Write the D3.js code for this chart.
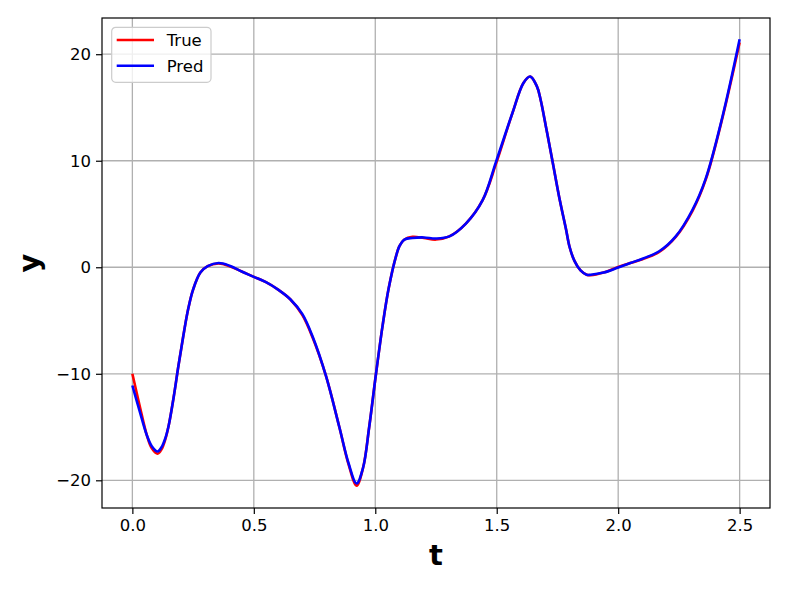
<!DOCTYPE html>
<html>
<head>
<meta charset="utf-8">
<script src="https://cdn.jsdelivr.net/npm/d3@7"></script>
<style>
  body { margin: 0; background: #fff; }
  text { font-family: "DejaVu Sans", sans-serif; }
</style>
</head>
<body>
<div id="chart"></div>
<script>
// sample times and values
var tVals = [0.0, 0.03, 0.06, 0.08, 0.104, 0.12, 0.135, 0.15, 0.17, 0.19, 0.21, 0.23, 0.25, 0.28, 0.31, 0.355, 0.40, 0.45, 0.50, 0.55, 0.60, 0.65, 0.70, 0.742, 0.797, 0.852, 0.89, 0.923, 0.95, 0.975, 1.003, 1.03, 1.055, 1.085, 1.10, 1.12, 1.153, 1.20, 1.25, 1.305, 1.373, 1.442, 1.497, 1.565, 1.61, 1.638, 1.665, 1.68, 1.705, 1.73, 1.757, 1.785, 1.80, 1.82, 1.845, 1.87, 1.887, 1.94, 1.997, 2.05, 2.1, 2.169, 2.237, 2.306, 2.36, 2.43, 2.5];
var yTrue = [-10.0, -13.0, -15.8, -17.0, -17.5, -17.1, -16.2, -14.8, -12.2, -9.2, -6.4, -3.9, -2.1, -0.5, 0.1, 0.35, 0.1, -0.4, -0.9, -1.4, -2.1, -3.0, -4.5, -6.6, -10.2, -15.0, -18.5, -20.5, -18.8, -15.0, -10.0, -5.5, -2.0, 1.0, 2.0, 2.6, 2.85, 2.75, 2.6, 2.9, 4.1, 6.3, 9.7, 14.5, 17.3, 17.9, 17.0, 15.8, 12.9, 9.9, 6.6, 3.6, 1.9, 0.6, -0.3, -0.7, -0.75, -0.5, 0.0, 0.4, 0.75, 1.44, 2.85, 5.3, 8.2, 14.1, 21.1];
var yPred = [-11.1, -13.5, -15.8, -16.8, -17.3, -16.9, -16.1, -14.8, -12.2, -9.2, -6.4, -3.9, -2.1, -0.5, 0.1, 0.4, 0.15, -0.4, -0.9, -1.4, -2.1, -3.0, -4.4, -6.5, -10.2, -15.0, -18.4, -20.3, -18.8, -15.0, -10.0, -5.5, -2.0, 1.0, 2.0, 2.6, 2.75, 2.8, 2.7, 2.9, 4.1, 6.3, 9.9, 14.5, 17.3, 17.9, 17.0, 15.8, 12.9, 9.9, 6.6, 3.6, 1.9, 0.6, -0.3, -0.7, -0.7, -0.5, -0.05, 0.4, 0.8, 1.5, 2.9, 5.4, 8.3, 14.2, 21.4];
var xTicks = [0.0, 0.5, 1.0, 1.5, 2.0, 2.5];
var yTicks = [-20, -10, 0, 10, 20];
var seriesNames = ["True", "Pred"];
var seriesColors = ["#ff0000", "#0000ff"];

var margin = { top: 18, right: 19, bottom: 84, left: 102 },
  width = 789 - margin.left - margin.right,
  height = 592 - margin.top - margin.bottom;

var svg = d3.select("#chart")
  .append("svg")
  .attr("width", 789)
  .attr("height", 592)
  .append("g")
  .attr("transform", "translate(" + margin.left + "," + margin.top + ")");

var x = d3.scaleLinear().domain([-0.125, 2.625]).range([0, width]);
var y = d3.scaleLinear().domain([-22.6, 23.4]).range([height, 0]);

// grid
svg.append("g").selectAll("line").data(xTicks).enter().append("line")
  .attr("x1", function (d) { return x(d); }).attr("x2", function (d) { return x(d); })
  .attr("y1", 0).attr("y2", height)
  .style("stroke", "#b0b0b0").style("stroke-width", 1.3);
svg.append("g").selectAll("line").data(yTicks).enter().append("line")
  .attr("y1", function (d) { return y(d); }).attr("y2", function (d) { return y(d); })
  .attr("x1", 0).attr("x2", width)
  .style("stroke", "#b0b0b0").style("stroke-width", 1.3);

// lines
var line = d3.line()
  .x(function (d) { return x(d[0]); })
  .y(function (d) { return y(d[1]); })
  .curve(d3.curveCatmullRom.alpha(0.5));

[yTrue, yPred].forEach(function (ys, i) {
  svg.append("path")
    .datum(tVals.map(function (t, j) { return [t, ys[j]]; }))
    .attr("d", line)
    .style("fill", "none")
    .style("stroke", seriesColors[i])
    .style("stroke-width", 2.6);
});

// axes
var xAxis = svg.append("g")
  .attr("transform", "translate(0," + height + ")")
  .call(d3.axisBottom(x).tickValues(xTicks).tickFormat(d3.format(".1f")).tickSize(6).tickPadding(5));
var yAxis = svg.append("g")
  .call(d3.axisLeft(y).tickValues(yTicks).tickFormat(function (d) { return d < 0 ? "\u2212" + Math.abs(d) : d; }).tickSize(6).tickPadding(5));
[xAxis, yAxis].forEach(function (a) {
  a.select(".domain").remove();
  a.selectAll("line").style("stroke", "#000").style("stroke-width", 1.2);
  a.selectAll("text").style("font-size", "16.5px").style("fill", "#000")
    .style("font-family", "DejaVu Sans, sans-serif");
});

// frame
svg.append("rect")
  .attr("width", width).attr("height", height)
  .style("fill", "none").style("stroke", "#000").style("stroke-width", 1.2);

// axis labels
svg.append("text")
  .attr("x", width / 2).attr("y", 565 - margin.top)
  .attr("text-anchor", "middle")
  .style("font-size", "29px").style("font-weight", "bold")
  .text("t");
svg.append("text")
  .attr("transform", "translate(" + (39 - margin.left) + "," + height / 2 + ") rotate(-90)")
  .attr("text-anchor", "middle")
  .style("font-size", "29px").style("font-weight", "bold")
  .text("y");

// legend
var legend = svg.append("g").attr("transform", "translate(" + (111.7 - margin.left) + "," + (27.3 - margin.top) + ")");
legend.append("rect")
  .attr("width", 99.3).attr("height", 55)
  .attr("rx", 4).attr("ry", 4)
  .style("fill", "#fff").style("fill-opacity", 0.8)
  .style("stroke", "#cccccc").style("stroke-width", 1.2);
seriesNames.forEach(function (name, i) {
  var ly = 12.7 + i * 25.7;
  legend.append("line")
    .attr("x1", 5).attr("x2", 42.3).attr("y1", ly).attr("y2", ly)
    .style("stroke", seriesColors[i]).style("stroke-width", 2.6);
  legend.append("text")
    .attr("x", 55).attr("y", ly + 6)
    .style("font-size", "16.5px")
    .text(name);
});
</script>
</body>
</html>
